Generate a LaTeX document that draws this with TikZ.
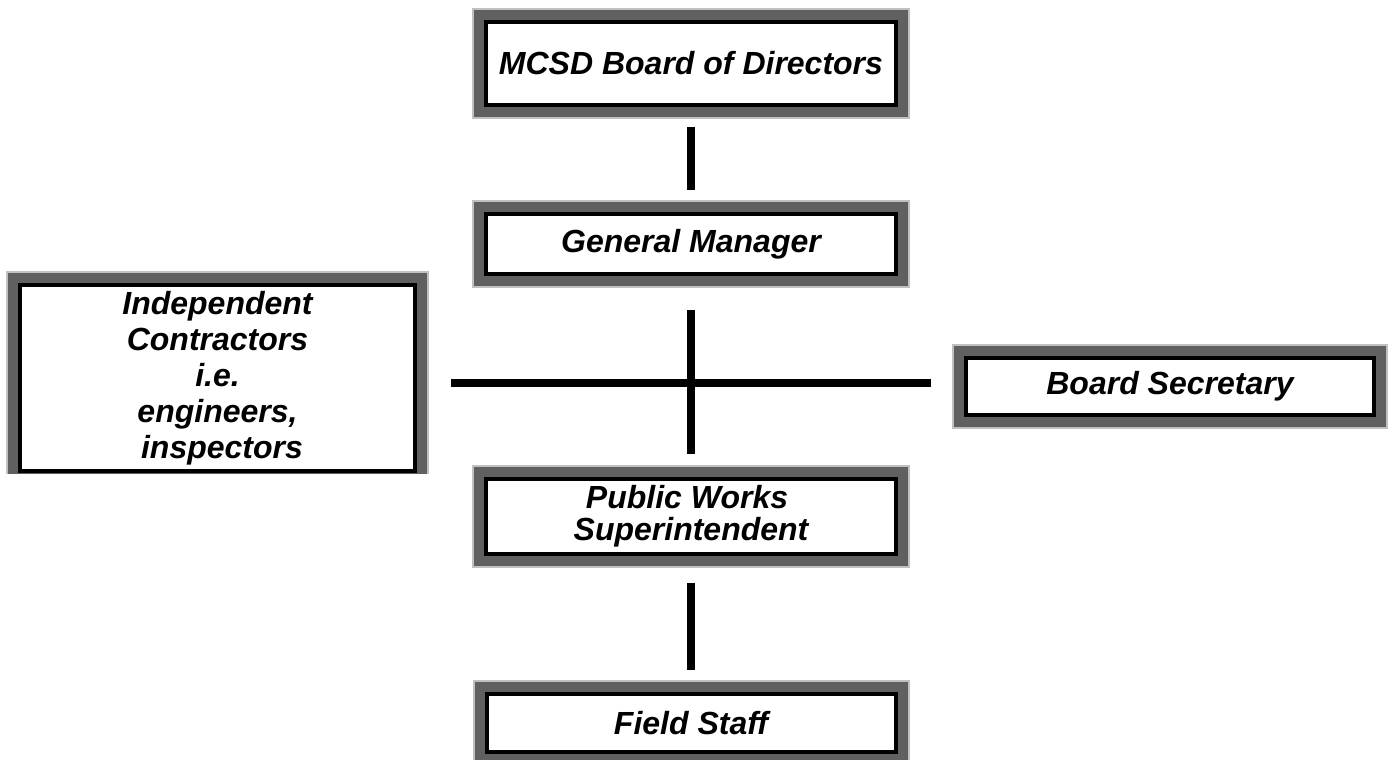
\documentclass[tikz,border=0pt]{standalone}
\usepackage{fontspec}
\setmainfont{Liberation Sans}
\usepackage{tikz}
\definecolor{frameLight}{HTML}{C0C0C0}
\definecolor{frameDark}{HTML}{606060}

\begin{document}
\begin{tikzpicture}[x=1pt,y=-1pt,
      orgbox/.style={draw=black,line width=4pt,fill=white,inner sep=0pt,
        outer sep=14pt,minimum width=410pt,align=center,
        font=\fontsize{32}{36}\selectfont\bfseries\itshape,
        preaction={draw=frameLight,line width=28pt},
        preaction={draw=frameDark,line width=24pt}},
      link/.style={draw=black,line width=8pt}]
    \useasboundingbox (0,0) rectangle (1393,760);
    \node[orgbox,minimum height=83pt] (board) at (691,63.5) {MCSD Board of Directors};
    \node[orgbox,minimum height=60pt] (gm) at (691,244) {General Manager};
    \node[orgbox,minimum height=75pt,font=\fontsize{32}{32}\selectfont\bfseries\itshape]
      (pw) at (691,516.5) {Public Works\hspace*{8pt}\\Superintendent};
    \node[orgbox,minimum height=58pt,minimum width=409pt] (fs) at (691,723) {Field Staff};
    \node[orgbox,minimum height=57pt,minimum width=408pt] (bs) at (1170,386.5) {Board Secretary};
    \begin{scope}
      \clip (0,0) rectangle (440,473.5);
      \node[orgbox,minimum height=186.5pt,minimum width=395pt] (ic) at (217.5,378)
        {Independent\\Contractors\\i.e.\\engineers,\\\hspace*{9pt}inspectors};
    \end{scope}
    \coordinate (hub) at (691,382.5);
    \draw[link,shorten <=8pt,shorten >=10pt] (board.south) -- (gm.north);
    \draw[link,shorten <=22pt,shorten >=11pt] (gm.south) -- (pw.north);
    \draw[link,shorten <=22pt,shorten >=21pt] (ic.east |- hub) -- (bs.west |- hub);
    \draw[link,shorten <=15pt,shorten >=10pt] (pw.south) -- (fs.north);
  \end{tikzpicture}
\end{document}
